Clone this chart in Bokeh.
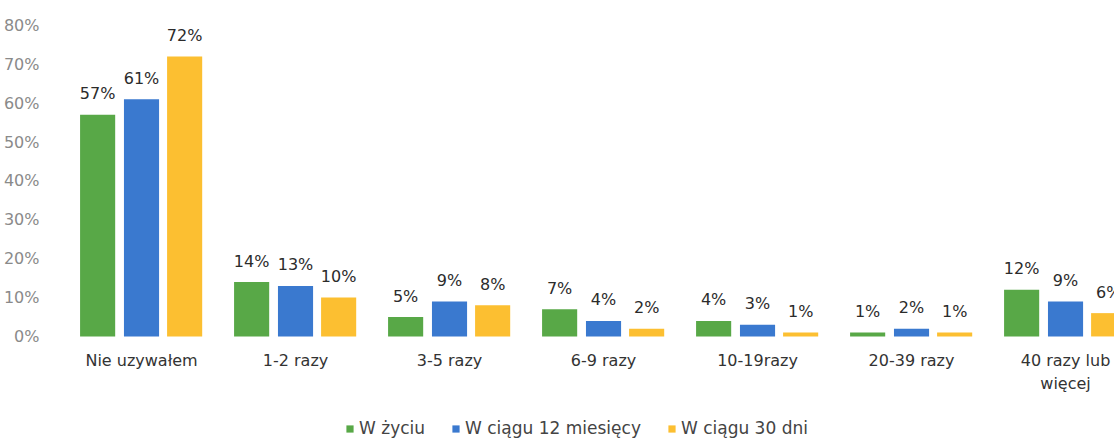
from bokeh.plotting import figure
from bokeh.models import ColumnDataSource, Range1d, FixedTicker, Legend, LegendItem, LinearAxis
from bokeh.core.properties import value
from bokeh.embed import file_html
from bokeh.resources import INLINE

categories = ["Nie uzywałem", "1-2 razy", "3-5 razy", "6-9 razy", "10-19razy", "20-39 razy", "40 razy lub\nwięcej"]
w_zyciu = [57, 14, 5, 7, 4, 1, 12]
w_12_mies = [61, 13, 9, 4, 3, 2, 9]
w_30_dni = [72, 10, 8, 2, 1, 1, 6]
series_names = ["W życiu", "W ciągu 12 miesięcy", "W ciągu 30 dni"]
colors = ["#58a847", "#3a79cf", "#fcbf31"]
y_ticks = [0, 10, 20, 30, 40, 50, 60, 70, 80]

FONT = "DejaVu Sans"

p = figure(width=1114, height=439, output_backend="svg", toolbar_location=None,
           x_range=Range1d(-0.604, 6.318), y_range=Range1d(-26.5, 86.4),
           x_axis_location=None, y_axis_location=None,
           min_border_left=48, min_border_right=0, min_border_top=0, min_border_bottom=0)
p.outline_line_color = None
p.grid.visible = False
p.background_fill_color = "white"

idx = list(range(len(categories)))
offsets = [-0.285, 0.0, 0.28]
bar_w = 0.228
renderers = []
for vals, off, col in zip([w_zyciu, w_12_mies, w_30_dni], offsets, colors):
    xs = [i + off for i in idx]
    src = ColumnDataSource(dict(x=xs, top=vals, lab=[f"{v}%" for v in vals]))
    r = p.vbar(x="x", top="top", bottom=0, width=bar_w, source=src, fill_color=col, line_color=None)
    renderers.append(r)
    p.text(x="x", y="top", text="lab", source=src, text_align="center", text_baseline="middle",
           y_offset=-21, text_font=value(FONT), text_font_size="16px", text_color="#2b2b2b")

yaxis = LinearAxis(ticker=FixedTicker(ticks=y_ticks))
yaxis.major_label_overrides = {t: f"{t}%" for t in y_ticks}
yaxis.axis_line_color = None
yaxis.major_tick_line_color = None
yaxis.minor_tick_line_color = None
yaxis.major_label_text_font = FONT
yaxis.major_label_text_font_size = "16px"
yaxis.major_label_text_color = "#8a8a8a"
yaxis.major_label_standoff = 3
p.add_layout(yaxis, "left")

xaxis = LinearAxis(ticker=FixedTicker(ticks=idx), fixed_location=0)
xaxis.major_label_overrides = {i: c for i, c in enumerate(categories)}
xaxis.axis_line_color = None
xaxis.major_tick_line_color = None
xaxis.minor_tick_line_color = None
xaxis.major_label_text_font = FONT
xaxis.major_label_text_font_size = "16px"
xaxis.major_label_text_color = "#333333"
xaxis.major_label_standoff = 9
p.add_layout(xaxis, "below")

legend = Legend(items=[LegendItem(label=n, renderers=[r]) for n, r in zip(series_names, renderers)],
                orientation="horizontal", location=(297, 1))
legend.label_text_font = FONT
legend.label_text_font_size = "17px"
legend.label_text_color = "#444444"
legend.glyph_width = 9
legend.glyph_height = 9
legend.spacing = 26
legend.label_standoff = 5
legend.border_line_color = None
legend.background_fill_alpha = 0
p.add_layout(legend)

open("out.html", "w").write(file_html(p, INLINE))
